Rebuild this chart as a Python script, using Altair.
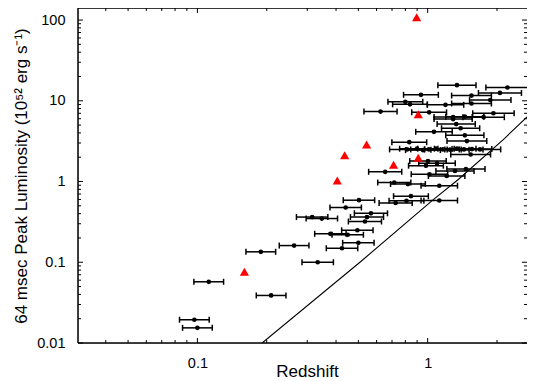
import altair as alt
import pandas as pd

# ---- data ----
redshift = [1.34, 2.22, 2.06, 0.935, 1.55, 0.80, 0.838, 1.195, 1.55, 1.87,
            0.624, 1.015, 1.93, 1.29, 1.29, 1.45, 1.75, 1.33, 1.39, 1.065,
            1.45, 0.832, 1.48,
            0.813, 0.899, 0.954, 1.013, 1.086, 1.165, 1.25, 1.34, 1.437, 1.557, 1.687,
            1.537, 1.003, 0.983, 1.098, 0.654, 1.314, 1.466, 1.018, 1.209,
            0.716, 0.821, 1.123,
            0.503, 0.846, 0.809, 0.726, 1.123, 0.4405, 0.567, 0.545, 0.534,
            0.315, 0.347, 0.495, 0.378, 0.4495, 0.263, 0.50, 0.4246, 0.1885,
            0.333, 0.112, 0.209, 0.097, 0.100]
luminosity = [15.6, 14.6, 12.5, 11.85, 11.6, 9.7, 9.04, 8.91, 9.25, 10.2,
              7.36, 7.19, 7.01, 6.29, 5.94, 6.35, 6.26, 5.15, 4.57, 4.13,
              3.73, 3.07, 3.17,
              2.50, 2.55, 2.45, 2.50, 2.55, 2.50, 2.48, 2.55, 2.50, 2.52, 2.50,
              2.16, 1.79, 1.57, 1.685, 1.32, 1.35, 1.43, 1.23, 1.17,
              0.972, 0.931, 0.887,
              0.587, 0.658, 0.577, 0.542, 0.582, 0.4765, 0.404, 0.363, 0.3196,
              0.363, 0.348, 0.249, 0.225, 0.219, 0.161, 0.174, 0.149, 0.1347,
              0.100, 0.0573, 0.0388, 0.0194, 0.0154]
# multiplicative half-width of the redshift error bars
z_factor = [1.21, 1.24, 1.24, 1.19, 1.22, 1.19, 1.19, 1.20, 1.22, 1.23,
            1.18, 1.19, 1.23, 1.21, 1.21, 1.21, 1.23, 1.21, 1.21, 1.20,
            1.21, 1.19, 1.22,
            1.19, 1.19, 1.19, 1.20, 1.20, 1.20, 1.21, 1.21, 1.21, 1.22, 1.23,
            1.22, 1.20, 1.19, 1.20, 1.18, 1.21, 1.21, 1.20, 1.20,
            1.18, 1.19, 1.20,
            1.17, 1.19, 1.19, 1.18, 1.20, 1.17, 1.18, 1.18, 1.18,
            1.17, 1.17, 1.17, 1.17, 1.17, 1.16, 1.17, 1.17, 1.16,
            1.17, 1.16, 1.16, 1.16, 1.16]

tri_redshift = [0.896, 0.91, 0.543, 0.436, 0.91, 0.711, 0.405, 0.16]
tri_luminosity = [108, 6.81, 2.87, 2.12, 1.97, 1.61, 1.03, 0.0762]

limit_z = [0.191, 0.508, 1.058, 1.358, 2.13, 2.92]
limit_L = [0.01, 0.1, 0.598, 1.059, 3.31, 7.8]

y_major = [0.01, 0.1, 1, 10, 100]
y_minor = [0.02, 0.03, 0.04, 0.05, 0.06, 0.07, 0.08, 0.09,
           0.2, 0.3, 0.4, 0.5, 0.6, 0.7, 0.8, 0.9,
           2, 3, 4, 5, 6, 7, 8, 9,
           20, 30, 40, 50, 60, 70, 80, 90]
x_major = [0.1, 1]
x_minor = [0.04, 0.05, 0.06, 0.07, 0.08, 0.09,
           0.2, 0.3, 0.4, 0.5, 0.6, 0.7, 0.8, 0.9, 2]

# ---- layout ----
W, H = 449, 335
FONT = "Liberation Sans"
xs = alt.Scale(type="log", domain=[0.0303, 2.70], nice=False)
ys = alt.Scale(type="log", domain=[0.01, 141], nice=False)

pts = pd.DataFrame({"z": redshift, "L": luminosity, "f": z_factor})
pts["lo"] = pts["z"] / pts["f"]
pts["hi"] = pts["z"] * pts["f"]
caps = pd.concat([pd.DataFrame({"z": pts["lo"], "L": pts["L"]}),
                  pd.DataFrame({"z": pts["hi"], "L": pts["L"]})])
tri = pd.DataFrame({"z": tri_redshift, "L": tri_luminosity})
lim = pd.DataFrame({"z": limit_z, "L": limit_L})

xaxis = alt.Axis(values=x_major, format="~g", ticks=False, tickSize=0, domain=False,
                 grid=False, labelPadding=13, labelFontSize=14.5, labelFont=FONT,
                 labelColor="black", titleFont=FONT,
                 titleFontSize=17, titleFontWeight="normal", titleColor="black",
                 titleX=229, titleAlign="center",
                 titleY=33, titleBaseline="alphabetic")
yaxis = alt.Axis(values=y_major, format="~g", ticks=False, tickSize=0, domain=False,
                 grid=False, labelPadding=13, labelFontSize=14.5, labelFont=FONT,
                 labelColor="black", titleFont=FONT,
                 titleFontSize=17, titleFontWeight="normal", titleColor="black",
                 titleX=-57, titleBaseline="middle")
XT = "Redshift"
YT = "64 msec Peak Luminosity (10⁵² erg s⁻¹)"


def X(field):
    return alt.X(field, scale=xs, axis=xaxis, title=XT)


def Y(field):
    return alt.Y(field, scale=ys, axis=yaxis, title=YT)


bars = alt.Chart(pts).mark_rule(color="black", strokeWidth=1.5).encode(
    x=X("lo:Q"), x2="hi:Q", y=Y("L:Q"))
capm = alt.Chart(caps).mark_tick(orient="vertical", color="black", size=6,
                                 thickness=1.5, opacity=1).encode(
    x=X("z:Q"), y=Y("L:Q"))
dots = alt.Chart(pts).mark_circle(color="black", size=22, opacity=1).encode(
    x=X("z:Q"), y=Y("L:Q"))
tris = alt.Chart(tri).mark_point(shape="triangle-up", filled=True, color="#ff0000",
                                 size=85, opacity=1).encode(
    x=X("z:Q"), y=Y("L:Q"))
line = alt.Chart(lim).mark_line(color="black", strokeWidth=1.1, clip=True).encode(
    x=X("z:Q"), y=Y("L:Q"))


def yticks(vals, ln):
    d = pd.DataFrame({"L": vals})
    left = alt.Chart(d).mark_rule(color="black", strokeWidth=1).encode(
        y=Y("L:Q"), x=alt.value(0), x2=alt.value(ln))
    right = alt.Chart(d).mark_rule(color="black", strokeWidth=1).encode(
        y=Y("L:Q"), x=alt.value(W - ln), x2=alt.value(W))
    return [left, right]


def xticks(vals, ln):
    d = pd.DataFrame({"z": vals})
    bot = alt.Chart(d).mark_rule(color="black", strokeWidth=1).encode(
        x=X("z:Q"), y=alt.value(H - ln), y2=alt.value(H))
    top = alt.Chart(d).mark_rule(color="black", strokeWidth=1).encode(
        x=X("z:Q"), y=alt.value(0), y2=alt.value(ln))
    return [bot, top]


frame_df = pd.DataFrame({"k": [0]})
frame_left = alt.Chart(frame_df).mark_rule(color="black", strokeWidth=1.5).encode(
    x=alt.value(0), y=alt.value(0), y2=alt.value(H))
frame_top = alt.Chart(frame_df).mark_rule(color="black", strokeWidth=1.5).encode(
    x=alt.value(0), x2=alt.value(W + 10), y=alt.value(0))
frame_bot = alt.Chart(frame_df).mark_rule(color="black", strokeWidth=1.5).encode(
    x=alt.value(0), x2=alt.value(W + 10), y=alt.value(H))

layers = [bars, capm, line, dots, tris]
layers += yticks(y_major, 5) + yticks(y_minor, 3)
layers += xticks(x_major, 5) + xticks(x_minor, 3)
layers += [frame_left, frame_top, frame_bot]

chart = alt.layer(*layers).properties(
    width=W, height=H,
    autosize=alt.AutoSizeParams(type="none"),
    padding={"left": 70, "top": 0, "right": 0, "bottom": 40},
).configure_view(stroke=None).configure(background="white")

chart.save("out.html", embed_options={"renderer": "svg", "actions": False})
